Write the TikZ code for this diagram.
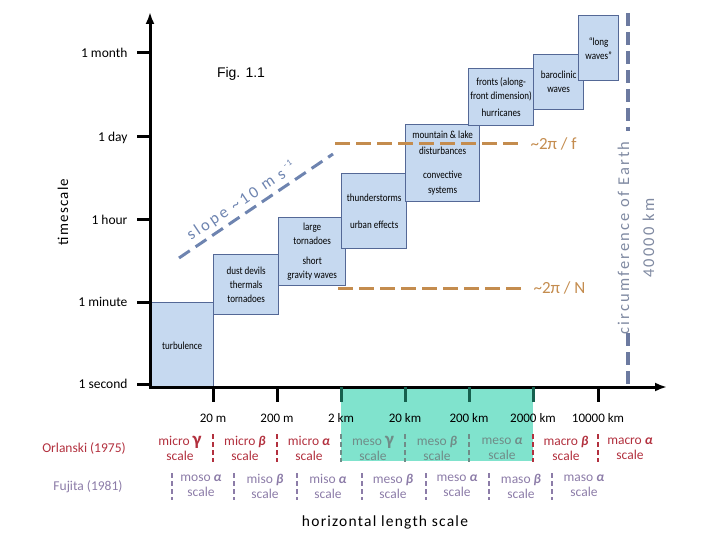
\documentclass[tikz,border=0pt]{standalone}
\usepackage{fontspec}
\setmainfont{Carlito}
\newfontfamily\condf[FakeStretch=0.84]{Carlito}
\newfontfamily\trackf[LetterSpace=8]{Carlito}
\newfontfamily\widef[LetterSpace=13]{Carlito}
\newfontfamily\slopef[LetterSpace=16]{Carlito}
\newfontfamily\figf{Liberation Sans}
\usetikzlibrary{arrows.meta}
\definecolor{boxfill}{RGB}{198,217,240}
\definecolor{boxline}{RGB}{84,104,150}
\definecolor{mesofill}{RGB}{128,227,205}
\definecolor{orlred}{RGB}{178,48,62}
\definecolor{mesogray}{RGB}{112,140,136}
\definecolor{fujpurple}{RGB}{140,124,168}
\definecolor{tickgreen}{RGB}{22,96,78}
\definecolor{orangeline}{RGB}{196,140,78}
\definecolor{slopeblue}{RGB}{110,132,176}
\definecolor{earthblue}{RGB}{108,122,160}
\definecolor{earthtext}{RGB}{128,138,162}
\begin{document}
\begin{tikzpicture}[x=1pt,y=-1pt,
  box/.style={draw=boxline, fill=boxfill, line width=1.3pt, align=center, inner sep=0pt,
    font=\condf\fontsize{10.8}{14}\selectfont, anchor=north west},
  axisline/.style={line width=3pt, -{Latex[length=12pt,width=9pt]}},
  tickline/.style={line width=3pt},
  ticklab/.style={font=\fontsize{13.5}{15}\selectfont, anchor=base east},
  xlab/.style={font=\fontsize{13}{15}\selectfont, anchor=base},
  orl/.style={font=\fontsize{13.5}{15}\selectfont, align=center, text=orlred},
  meso/.style={font=\fontsize{13.5}{15}\selectfont, align=center, text=mesogray},
  fuj/.style={font=\fontsize{13.5}{15}\selectfont, align=center, text=fujpurple},
  orlsep/.style={line width=1.1pt, dash pattern=on 5pt off 3pt},
  fujsep/.style={line width=1.1pt, dash pattern=on 5pt off 3pt, fujpurple},
  orangedash/.style={line width=3pt, orangeline, dash pattern=on 15pt off 6pt},
  orangelab/.style={font=\fontsize{17}{19}\selectfont, text=orangeline, anchor=west},
  slopedash/.style={line width=3pt, slopeblue, dash pattern=on 13pt off 7pt},
  earthdash/.style={line width=4pt, earthblue, dash pattern=on 13pt off 6pt}
]
\useasboundingbox (0,0) rectangle (720,540);

% green meso region
\fill[mesofill] (341,387) rectangle (533,461);

% boxes
\node[box, minimum width=63pt, minimum height=86pt] (turb) at (150,302) {turbulence};
\node[box, minimum width=65pt, minimum height=60pt] (dust) at (213,254) {dust devils\\thermals\\tornadoes};
\node[box, minimum width=67pt, minimum height=68pt] (large) at (278,217) {large\\tornadoes\\[6pt]short\\gravity waves};
\node[box, minimum width=65pt, minimum height=75pt] (thunder) at (341,173) {thunderstorms\\[13pt]urban effects};
\node[box, minimum width=74pt, minimum height=77pt] (mount) at (405,124) {mountain \& lake\\[1.5pt]disturbances\\[10pt]convective\\[1pt]systems};
\node[box, minimum width=65pt, minimum height=57pt] (fronts) at (468,68) {fronts (along-\\front dimension)\\[3pt]hurricanes};
\node[box, minimum width=50pt, minimum height=55pt] (baro) at (533,54) {baroclinic\\waves};
\node[box, minimum width=40pt, minimum height=65pt] (long) at (578,15) {“long\\waves”};

% orange dashed lines
\coordinate (fA) at (335,144); \coordinate (fB) at (520,144);
\coordinate (nA) at (338,288); \coordinate (nB) at (522,288);
\draw[orangedash] (fA) -- (fB);
\draw[orangedash] (nA) -- (nB);
\node[orangelab] (flab) at (527,144) {\textasciitilde2π / f};
\node[orangelab] (nlab) at (530,288) {\textasciitilde2π / N};

% slope line
\coordinate (s1) at (179,258); \coordinate (s2) at (333,154);
\draw[slopedash] (s1) -- (s2);
\node[rotate=34, anchor=base west, text=slopeblue, font=\slopef\fontsize{16.5}{18}\selectfont, inner sep=0pt]
  (slope) at (191,241) {slope \textasciitilde10 m s\hspace{3pt}\raisebox{7pt}{\fontsize{9}{9}\selectfont -1}};

% circumference of Earth
\coordinate (e1) at (628,13); \coordinate (e2) at (628,131);
\coordinate (e3) at (628,333); \coordinate (e4) at (628,386);
\draw[earthdash] (e1) -- (e2);
\draw[earthdash] (e3) -- (e4);
\node[rotate=90, align=center, text=earthtext, font=\widef\fontsize{16.5}{25}\selectfont]
  (earth) at (636,238) {circumference of Earth\\40000 km};

% axes
\coordinate (O) at (150,387);
\coordinate (ytop) at (150,12);
\coordinate (xend) at (667,387);
\draw[axisline] (150,388.5) -- (ytop);
\draw[axisline] (148.5,387) -- (xend);

% y ticks
\foreach \yy/\lab/\nm in {53/1 month/tm,137/1 day/td,220/1 hour/th,302/1 minute/tmin,384/1 second/ts}{
  \draw[tickline] (137,\yy) -- (150,\yy);
  \node[ticklab] (\nm) at (131,\yy+4.5) {\lab};
}
\node[rotate=90, font=\trackf\fontsize{15}{18}\selectfont] (tsc) at (63,212) {timescale};

% x ticks
\foreach \xx/\lab/\nm/\col in {213/20 m/x1/black,277/200 m/x2/black,341/2 km/x3/tickgreen,405/20 km/x4/tickgreen,469/200 km/x5/tickgreen,533/2000 km/x6/tickgreen,598/10000 km/x7/black}{
  \draw[tickline, \col] (\xx,387) -- (\xx,402);
  \node[xlab] (\nm) at (\xx,422.5) {\lab};
}

% Orlanski row
\node[font=\fontsize{13.5}{15}\selectfont, text=orlred, anchor=base] (orlanski) at (84,452.5) {Orlanski (1975)};
\node[orl] (o1) at (180,448.5) {micro {\bfseries\fontsize{19}{15}\selectfont γ}\\scale};
\node[orl] (o2) at (245,448.5) {micro \textbf{\textit{β}}\\scale};
\node[orl] (o3) at (309,448.5) {micro \textbf{\textit{α}}\\scale};
\node[meso] (o4) at (373,448.5) {meso {\bfseries\fontsize{19}{15}\selectfont γ}\\scale};
\node[meso] (o5) at (437,448.5) {meso \textbf{\textit{β}}\\scale};
\node[meso] (o6) at (502,448.5) {meso \textbf{\textit{α}}\\scale};
\node[orl] (o7) at (566,448.5) {macro \textbf{\textit{β}}\\scale};
\node[orl] (o8) at (630,448.5) {macro \textbf{\textit{α}}\\scale};
\foreach \xx/\col in {213/orlred,277/orlred,341/mesogray,405/mesogray,469/mesogray,533/orlred,598/orlred}{
  \draw[orlsep, \col] (\xx,434) -- (\xx,462);
}

% Fujita row
\node[font=\fontsize{13.5}{15}\selectfont, text=fujpurple, anchor=base] (fujita) at (88,490.5) {Fujita (1981)};
\node[fuj] (f1) at (201,486) {moso \textbf{\textit{α}}\\scale};
\node[fuj] (f2) at (265,486) {miso \textbf{\textit{β}}\\scale};
\node[fuj] (f3) at (328,486) {miso \textbf{\textit{α}}\\scale};
\node[fuj] (f4) at (393,486) {meso \textbf{\textit{β}}\\scale};
\node[fuj] (f5) at (457,486) {meso \textbf{\textit{α}}\\scale};
\node[fuj] (f6) at (521,486) {maso \textbf{\textit{β}}\\scale};
\node[fuj] (f7) at (584,486) {maso \textbf{\textit{α}}\\scale};
\foreach \xx in {172,234,297,362,426,489,552}{
  \draw[fujsep] (\xx,473) -- (\xx,500);
}

\node[font=\trackf\fontsize{15.5}{18}\selectfont] (hls) at (385,522) {horizontal length scale};
\node[font=\figf\fontsize{14}{16}\selectfont] (fig) at (241,74) {Fig. 1.1};
\end{tikzpicture}
\end{document}
